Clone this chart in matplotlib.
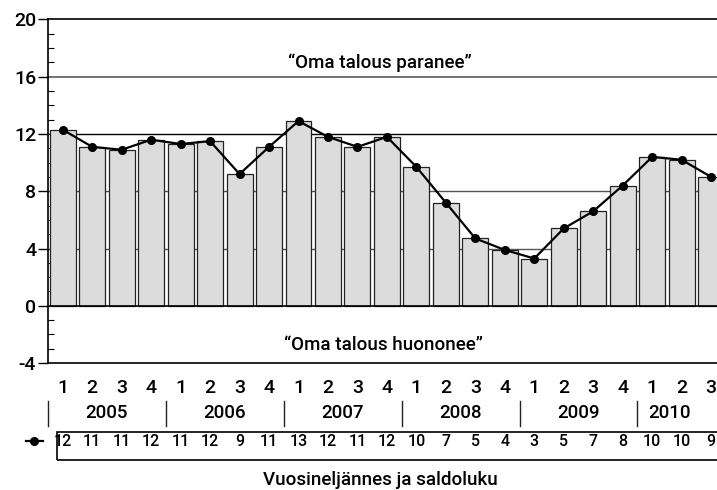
import matplotlib
matplotlib.use("Agg")
import matplotlib.pyplot as plt
from matplotlib.transforms import blended_transform_factory
from matplotlib.patches import Rectangle
from matplotlib.lines import Line2D

# saldo per quarter, 2005Q1 .. 2010Q3
saldo = [12.3, 11.1, 10.9, 11.6, 11.3, 11.5, 9.2, 11.1,
         12.9, 11.8, 11.1, 11.8, 9.7, 7.2, 4.7, 3.9,
         3.3, 5.4, 6.6, 8.4, 10.4, 10.2, 9.0]
saldo_labels = ["12", "11", "11", "12", "11", "12", "9", "11",
                "13", "12", "11", "12", "10", "7", "5", "4",
                "3", "5", "7", "8", "10", "10", "9"]
quarters = ["1", "2", "3", "4"] * 5 + ["1", "2", "3"]
years = ["2005", "2006", "2007", "2008", "2009", "2010"]
year_pos = [1.5, 5.5, 9.5, 13.5, 17.5, 20.6]
yticks = [-4, 0, 4, 8, 12, 16, 20]

plt.rcParams["font.family"] = ["Roboto", "DejaVu Sans"]
plt.rcParams["font.weight"] = "medium"
plt.rcParams["axes.unicode_minus"] = False
fs = 13.5

W, H = 717, 490
fig = plt.figure(figsize=(W / 100, H / 100), dpi=100)
ax = fig.add_axes([48 / W, 1 - 363 / H, 1 - 48 / W, (363 - 19.5) / H])

x = list(range(len(saldo)))

# horizontal reference lines (behind bars)
ax.axhline(4, color="#555555", lw=1.0, zorder=0)
ax.axhline(8, color="#555555", lw=1.0, zorder=0)
ax.axhline(12, color="black", lw=1.0, zorder=0)
ax.axhline(16, color="#666666", lw=1.3, zorder=0)

ax.bar(x, saldo, width=0.88, color="#dcdcdc", edgecolor="#222222",
       linewidth=0.9, zorder=2)
ax.axhline(0, color="black", lw=1.2, zorder=3)
ax.plot(x, saldo, color="black", lw=1.6, marker="o", markersize=5.5, zorder=4)

ax.set_xlim(-0.5, 22.2)
ax.set_ylim(-4, 20)
ax.set_yticks(yticks)
ax.set_yticks(range(-4, 21), minor=True)
ax.set_xticks([])
ax.tick_params(axis="y", which="major", direction="out", length=7.5,
               width=1.0, labelsize=fs + 0.5, pad=1)
ax.tick_params(axis="y", which="minor", direction="in", length=4, width=0.8)
for s in ["left", "bottom", "top"]:
    ax.spines[s].set_color("black")
    ax.spines[s].set_linewidth(1.2)
ax.spines["right"].set_visible(False)

ax.text(10.75, 16.35, "\u201cOma talous paranee\u201d", ha="center", va="bottom",
        fontsize=fs)
ax.text(10.9, -3.4, "\u201cOma talous huononee\u201d", ha="center", va="bottom",
        fontsize=fs)

# table below the axis
tr = blended_transform_factory(ax.transData, fig.transFigure)
def fy(px):
    return 1 - px / H

for xi, q in zip(x, quarters):
    ax.text(xi, fy(388), q, transform=tr, ha="center", va="center",
            fontsize=fs + 0.5, clip_on=False)
for xp, yr in zip(year_pos, years):
    ax.text(xp, fy(413), yr, transform=tr, ha="center", va="center",
            fontsize=fs, clip_on=False)
for sep in [-0.5, 3.5, 7.5, 11.5, 15.5, 19.5]:
    fig.add_artist(Line2D([sep, sep], [fy(401), fy(426)], transform=tr,
                          color="#222222", lw=1.0))

fig.add_artist(Rectangle((-0.2, fy(460)), 23.0, fy(432) - fy(460),
                         transform=tr, fill=False, edgecolor="black", lw=1.2))
for xi, lab in zip(x, saldo_labels):
    ax.text(xi, fy(441), lab, transform=tr, ha="center", va="center",
            fontsize=fs - 2, clip_on=False)

fig.add_artist(Line2D([26 / W, 43 / W], [fy(441), fy(441)],
                      transform=fig.transFigure, color="black", lw=1.6))
fig.add_artist(Line2D([33.5 / W], [fy(441)], transform=fig.transFigure,
                      marker="o", markersize=5.5, color="black"))

fig.text(0.53, fy(480), "Vuosineljännes ja saldoluku", ha="center",
         va="center", fontsize=fs)

fig.savefig("out.png", dpi=100)
